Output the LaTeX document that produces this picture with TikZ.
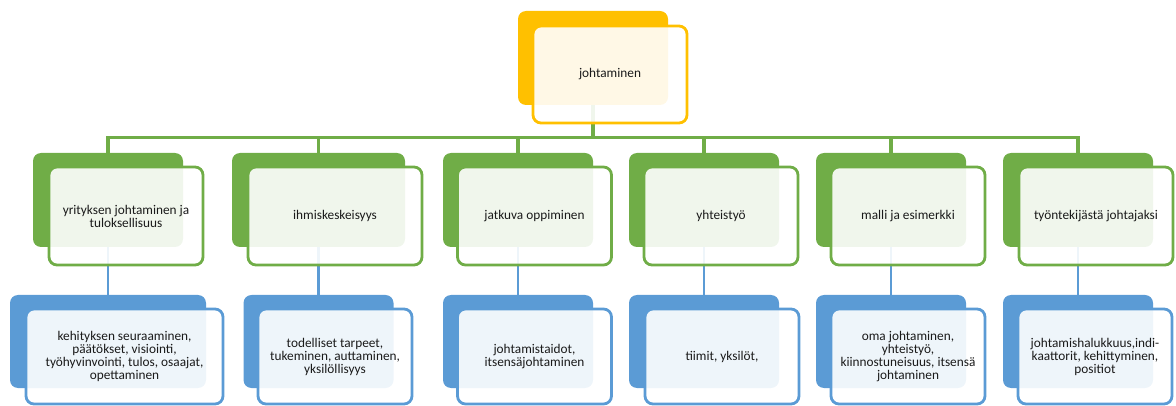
\documentclass[tikz,border=0pt]{standalone}
\usepackage{fontspec}
\setmainfont{Carlito}
\definecolor{gold}{HTML}{FFC000}
\definecolor{leaf}{HTML}{70AD47}
\definecolor{sky}{HTML}{5B9BD5}
\definecolor{ink}{HTML}{1A1A1A}
\begin{document}
\begin{tikzpicture}[x=1pt,y=-1pt,
  back/.style={fill=#1, draw=none, rounded corners=8pt, inner sep=0pt, minimum height=94pt, minimum width=150pt},
  front/.style={draw=#1, line width=2.8pt, fill=white, fill opacity=0.9, text opacity=1,
    rounded corners=8pt, inner sep=0pt, minimum height=97pt, minimum width=154pt,
    align=center, font=\fontsize{13.3}{13}\selectfont, text=ink},
  gline/.style={leaf, line width=3.2pt},
  bline/.style={sky, line width=2.6pt}]
\useasboundingbox (0,0) rectangle (1176,406);

% back plates
\node[back=gold] (tb) at (593,58) {};
\foreach \n/\x/\w in {1/108/150, 2/318.5/173, 3/518/150, 4/704/150, 5/891/150, 6/1078/150}
  \node[back=leaf, minimum width=\w pt] (g\n b) at (\x,200) {};
\foreach \n/\x/\w in {1/108/196, 2/318.5/150, 3/518/150, 4/704/150, 5/891/150, 6/1078/150}
  \node[back=sky, minimum width=\w pt, minimum height=93pt] (b\n b) at (\x,341.5) {};

% connectors
\foreach \n in {1,...,6} {
  \draw[gline] (tb.south) -- ++(0,32) -| (g\n b.north);
  \draw[bline] (g\n b.south) -- (b\n b.north);
}

% front panels
\node[front=gold] (t) at (610,74.5) {johtaminen};

\node[front=leaf, minimum height=98pt] (g1) at (126,216) {yrityksen johtaminen ja\\tuloksellisuus};
\node[front=leaf, minimum height=98pt, minimum width=174pt] (g2) at (335,216) {ihmiskeskeisyys};
\node[front=leaf, minimum height=98pt] (g3) at (534.5,216) {jatkuva oppiminen};
\node[front=leaf, minimum height=98pt] (g4) at (721,216) {yhteistyö};
\node[front=leaf, minimum height=98pt] (g5) at (908,216) {malli ja esimerkki};
\node[front=leaf, minimum height=98pt] (g6) at (1096,216) {työntekijästä johtajaksi};

\node[front=sky, minimum height=95pt, minimum width=197pt] (b1) at (124.5,356.5)
  {kehityksen seuraaminen,\\päätökset, visiointi,\\työhyvinvointi, tulos, osaajat,\\opettaminen};
\node[front=sky, minimum height=95pt] (b2) at (335,356.5)
  {todelliset tarpeet,\\tukeminen, auttaminen,\\yksilöllisyys};
\node[front=sky, minimum height=95pt] (b3) at (534.5,356.5)
  {johtamistaidot,\\itsensäjohtaminen};
\node[front=sky, minimum height=95pt] (b4) at (722,356.5)
  {tiimit, yksilöt,};
\node[front=sky, minimum height=95pt] (b5) at (908,356.5)
  {oma johtaminen,\\yhteistyö,\\kiinnostuneisuus, itsensä\\johtaminen};
\node[front=sky, minimum height=95pt] (b6) at (1095,356.5)
  {johtamishalukkuus,indi-\\kaattorit, kehittyminen,\\positiot};
\end{tikzpicture}
\end{document}
